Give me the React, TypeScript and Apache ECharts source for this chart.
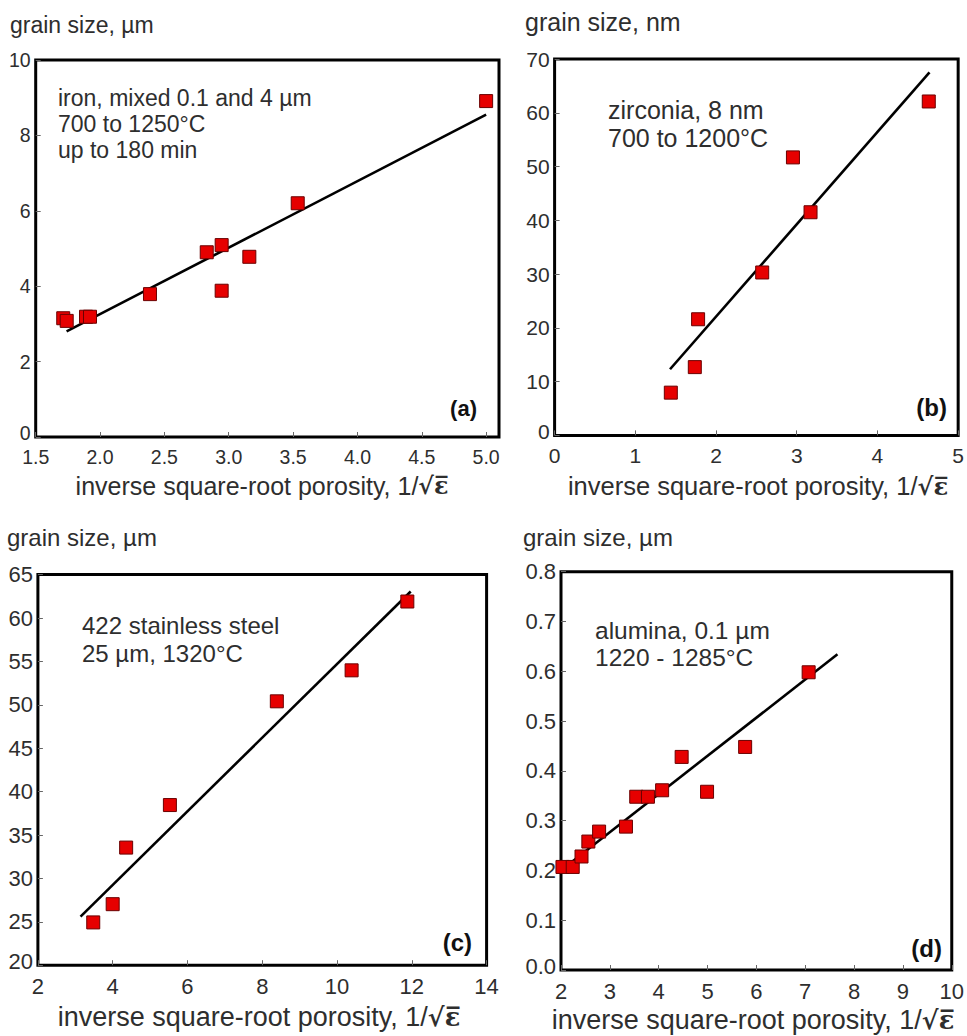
import React, { useEffect, useRef } from 'react';
import * as echarts from 'echarts';

// (a) iron, mixed 0.1 and 4 µm
const ironX = [1.714, 1.741, 1.891, 1.922, 2.388, 2.829, 2.945, 2.945, 3.16, 3.536, 5.0];
const ironY = [3.15, 3.08, 3.19, 3.19, 3.79, 4.9, 5.09, 3.88, 4.78, 6.2, 8.91];
const ironFitX = [1.74, 5.0];
const ironFitY = [2.8, 8.55];

// (b) zirconia, 8 nm
const zirX = [1.44, 1.737, 1.778, 2.572, 2.953, 3.171, 4.636];
const zirY = [7.95, 12.7, 21.6, 30.3, 51.7, 41.5, 62.1];
const zirFitX = [1.43, 4.645];
const zirFitY = [12.3, 67.5];

// (c) 422 stainless steel
const steelX = [3.48, 4.0, 4.36, 5.53, 8.39, 10.39, 11.88];
const steelY = [24.93, 27.03, 33.55, 38.45, 50.4, 53.97, 61.9];
const steelFitX = [3.14, 11.97];
const steelFitY = [25.6, 63.05];

// (d) alumina, 0.1 µm
const aluX = [2.03, 2.24, 2.42, 2.56, 2.78, 3.33, 3.54, 3.78, 4.07, 4.47, 4.99, 5.77, 7.07];
const aluY = [0.207, 0.207, 0.228, 0.258, 0.278, 0.288, 0.348, 0.348, 0.361, 0.428, 0.358, 0.448, 0.598];
const aluFitX = [2.01, 7.66];
const aluFitY = [0.201, 0.634];

const yTitles = ['grain size, µm', 'grain size, nm', 'grain size, µm', 'grain size, µm'];
const notes = [
  'iron, mixed 0.1 and 4 µm\n700 to 1250°C\nup to 180 min',
  'zirconia, 8 nm\n700 to 1200°C',
  '422 stainless steel\n25 µm, 1320°C',
  'alumina, 0.1 µm\n1220 - 1285°C',
];
const panelTags = ['(a)', '(b)', '(c)', '(d)'];
const xTitle = 'inverse square-root porosity, 1/';

const FONT = '"Liberation Sans", Arial, sans-serif';
const TXT = '#2e2e2e';

const grids = [
  { left: 35.7, top: 60, width: 463.3, height: 377 },
  { left: 554.6, top: 59, width: 407.1, height: 376.4 },
  { left: 37.9, top: 574.6, width: 448.7, height: 390.6 },
  { left: 561, top: 571.7, width: 392, height: 398.3 },
];

const xRanges = [
  { min: 1.5, max: 5.1, interval: 0.5, dec: 1 },
  { min: 0, max: 5, interval: 1, dec: 0 },
  { min: 2, max: 14, interval: 2, dec: 0 },
  { min: 2, max: 10, interval: 1, dec: 0 },
];
const yRanges = [
  { min: 0, max: 10, interval: 2, dec: 0 },
  { min: 0, max: 70, interval: 10, dec: 0 },
  { min: 20, max: 65, interval: 5, dec: 0 },
  { min: 0, max: 0.8, interval: 0.1, dec: 1 },
];
const tickFont = [19.5, 21, 22, 22];

const pts = (xs: number[], ys: number[]) => xs.map((x, i) => [x, ys[i]]);

export default function App() {
  const ref = useRef<HTMLDivElement>(null);
  useEffect(() => {
    if (!ref.current) return;
    const chart = echarts.init(ref.current, undefined, { renderer: 'svg' });

    const scatterSets = [pts(ironX, ironY), pts(zirX, zirY), pts(steelX, steelY), pts(aluX, aluY)];
    const fitSets = [pts(ironFitX, ironFitY), pts(zirFitX, zirFitY), pts(steelFitX, steelFitY), pts(aluFitX, aluFitY)];

    const xAxis = xRanges.map((r, i) => ({
      type: 'value',
      gridIndex: i,
      min: r.min,
      max: r.max,
      interval: r.interval,
      axisLine: { show: false },
      splitLine: { show: false },
      axisTick: { show: true, inside: true, length: 5, lineStyle: { color: '#666', width: 1 } },
      axisLabel: {
        show: true,
        margin: 10,
        color: TXT,
        fontFamily: FONT,
        fontSize: tickFont[i],
        lineHeight: tickFont[i],
        showMaxLabel: i === 0 ? false : true,
        showMinLabel: true,
        formatter: (v: number) => v.toFixed(r.dec),
      },
    }));
    const yAxis = yRanges.map((r, i) => ({
      type: 'value',
      gridIndex: i,
      min: r.min,
      max: r.max,
      interval: r.interval,
      axisLine: { show: false },
      splitLine: { show: false },
      axisTick: { show: true, inside: true, length: 5, lineStyle: { color: '#666', width: 1 } },
      axisLabel: {
        show: true,
        margin: 5,
        color: TXT,
        fontFamily: FONT,
        fontSize: tickFont[i],
        lineHeight: 15,
        showMaxLabel: true,
        showMinLabel: true,
        formatter: (v: number) =>
          Math.abs(v - r.min) < 1e-9 ? '{lo|' + v.toFixed(r.dec) + '}' : v.toFixed(r.dec),
        rich: {
          lo: {
            fontFamily: FONT,
            fontSize: tickFont[i],
            color: TXT,
            lineHeight: 14,
            padding: [0, 0, 8, 0],
          },
        },
      },
    }));

    const series: any[] = [];
    for (let i = 0; i < 4; i++) {
      series.push({
        type: 'line',
        xAxisIndex: i,
        yAxisIndex: i,
        data: fitSets[i],
        symbol: 'none',
        lineStyle: { color: '#000', width: 2.6 },
        z: 2,
      });
      series.push({
        type: 'scatter',
        xAxisIndex: i,
        yAxisIndex: i,
        data: scatterSets[i],
        symbol: 'rect',
        symbolSize: 13,
        clip: false,
        itemStyle: { color: '#e60000', borderColor: '#6a0000', borderWidth: 1, opacity: 1 },
        z: 3,
      });
    }

    const yTitlePos = [
      { x: 10, y: 25, s: 23 },
      { x: 525, y: 22, s: 25 },
      { x: 7, y: 537, s: 24 },
      { x: 523, y: 537, s: 24 },
    ];
    const notePos = [
      { x: 58, y: 85, s: 23, lh: 26 },
      { x: 608, y: 96, s: 25, lh: 28 },
      { x: 82, y: 611, s: 24, lh: 28 },
      { x: 595, y: 616.5, s: 24.5, lh: 27 },
    ];
    const tagPos = [
      { x: 477, y: 408, s: 22 },
      { x: 947, y: 407, s: 24 },
      { x: 472, y: 942, s: 24 },
      { x: 942, y: 948, s: 24 },
    ];
    const xTitlePos = [
      { x: 262, y: 486, s: 25 },
      { x: 758, y: 486, s: 25.5 },
      { x: 259, y: 1017, s: 27 },
      { x: 753, y: 1020, s: 27 },
    ];

    const graphic: any[] = [];
    for (let i = 0; i < 4; i++) {
      graphic.push({
        type: 'text',
        x: yTitlePos[i].x,
        y: yTitlePos[i].y,
        style: {
          text: yTitles[i],
          fill: TXT,
          font: `${yTitlePos[i].s}px ${FONT}`,
          textAlign: 'left',
          textVerticalAlign: 'middle',
        },
      });
      graphic.push({
        type: 'text',
        x: notePos[i].x,
        y: notePos[i].y,
        style: {
          text: notes[i],
          fill: TXT,
          font: `${notePos[i].s}px ${FONT}`,
          lineHeight: notePos[i].lh,
          textAlign: 'left',
          textVerticalAlign: 'top',
        },
      });
      graphic.push({
        type: 'text',
        x: tagPos[i].x,
        y: tagPos[i].y,
        style: {
          text: panelTags[i],
          fill: '#111',
          font: `bold ${tagPos[i].s}px ${FONT}`,
          textAlign: 'right',
          textVerticalAlign: 'middle',
        },
      });
      graphic.push({
        type: 'text',
        x: xTitlePos[i].x,
        y: xTitlePos[i].y,
        style: {
          text: xTitle + '{r|√ε̅}',
          fill: TXT,
          font: `${xTitlePos[i].s}px ${FONT}`,
          textAlign: 'center',
          textVerticalAlign: 'middle',
          rich: {
            r: {
              fontFamily: '"DejaVu Serif", serif',
              fontSize: xTitlePos[i].s * 0.95,
              fontWeight: 'bold',
              fill: TXT,
              color: TXT,
            },
          },
        },
      });
    }

    chart.setOption({
      animation: false,
      backgroundColor: '#fff',
      grid: grids.map((g) => ({
        ...g,
        show: true,
        borderColor: '#000',
        borderWidth: 3,
        backgroundColor: 'transparent',
        containLabel: false,
      })),
      xAxis,
      yAxis,
      series,
      graphic,
    });
    return () => chart.dispose();
  }, []);

  return (
    <div
      ref={ref}
      style={{ position: 'absolute', left: 0, top: 0, width: 967, height: 1036, background: '#fff' }}
    />
  );
}
